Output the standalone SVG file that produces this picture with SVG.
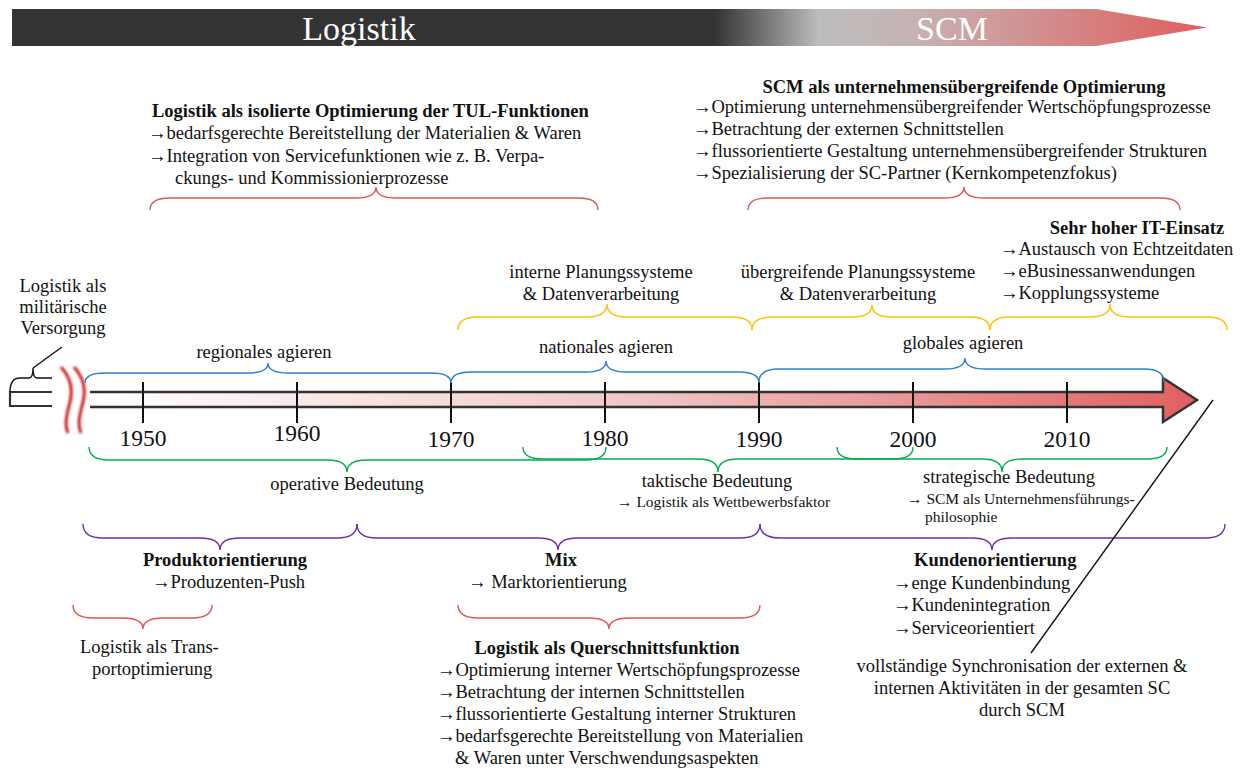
<svg xmlns="http://www.w3.org/2000/svg" width="1242" height="772" viewBox="0 0 1242 772">
<defs>
<linearGradient id="bannerGrad" gradientUnits="userSpaceOnUse" x1="12" y1="0" x2="1207" y2="0">
<stop offset="0" stop-color="#333333"/>
<stop offset="0.588" stop-color="#333333"/>
<stop offset="0.675" stop-color="#bcbcbc"/>
<stop offset="0.75" stop-color="#c6b4b4"/>
<stop offset="1" stop-color="#e05e5e"/>
</linearGradient>
<linearGradient id="arrowGrad" gradientUnits="userSpaceOnUse" x1="90" y1="0" x2="1197" y2="0">
<stop offset="0" stop-color="#ffffff"/>
<stop offset="0.5" stop-color="#f0c6c6"/>
<stop offset="1" stop-color="#e06060"/>
</linearGradient>
<filter id="soft" x="-50%" y="-10%" width="200%" height="120%">
<feGaussianBlur stdDeviation="0.9"/>
</filter>
</defs>
<style>
text{font-family:"Liberation Serif","Times New Roman",serif;font-size:18.5px;fill:#111;}
.b{font-weight:bold;}
.c{text-anchor:middle;}
.s{font-size:15.5px;}
.yr{font-size:23.5px;text-anchor:middle;}
.ban{font-size:34px;fill:#ffffff;text-anchor:middle;}
.br{fill:none;stroke-width:1.4;}
.blue{stroke:#2f7fcf;}
.yel{stroke:#ffc000;}
.grn{stroke:#00b050;}
.pur{stroke:#7030a0;}
.red{stroke:#e05555;}
.tick{stroke:#111;stroke-width:2;}
</style>

<g id="banner">
<path d="M12,9 H1096 L1207,27.5 L1096,46 H12 Z" fill="url(#bannerGrad)"/>
<text class="ban" x="359" y="40">Logistik</text>
<text class="ban" x="952" y="40">SCM</text>
</g>

<g id="timeline">
<path d="M90,392 H1163 V378 L1197,400 L1163,422 V407 H90 Z" fill="url(#arrowGrad)"/>
<path d="M90,392 H1163 V378 L1197,400 L1163,422 V407 H90" fill="none" stroke="#333" stroke-width="2.5" stroke-linejoin="miter"/>
<path d="M52,392 H10 V406 H52" fill="none" stroke="#333" stroke-width="2.2"/>
<path d="M10,392 Q10,378 20,378 H29 Q33,378 33,368 Q33,378 37,378 H52" fill="none" stroke="#111" stroke-width="1.4"/>
<line x1="33" y1="368" x2="62" y2="347" stroke="#111" stroke-width="1.4"/>
<path d="M61,367 C71,378 73,390 70,402 C67,414 64,424 68,433" fill="none" stroke="#d42a2a" stroke-width="3.2" filter="url(#soft)"/>
<path d="M74,367 C84,378 86,390 83,402 C80,414 77,424 81,433" fill="none" stroke="#d42a2a" stroke-width="3.2" filter="url(#soft)"/>
<line class="tick" x1="143" y1="382" x2="143" y2="423"/>
<line class="tick" x1="297" y1="382" x2="297" y2="423"/>
<line class="tick" x1="451" y1="382" x2="451" y2="423"/>
<line class="tick" x1="605" y1="382" x2="605" y2="423"/>
<line class="tick" x1="759" y1="382" x2="759" y2="423"/>
<line class="tick" x1="913" y1="382" x2="913" y2="423"/>
<line class="tick" x1="1067" y1="382" x2="1067" y2="423"/>
<text class="yr" x="143" y="446">1950</text>
<text class="yr" x="297" y="441">1960</text>
<text class="yr" x="451" y="447">1970</text>
<text class="yr" x="605" y="446">1980</text>
<text class="yr" x="759" y="447">1990</text>
<text class="yr" x="913" y="447">2000</text>
<text class="yr" x="1067" y="447">2010</text>
</g>

<g id="connectors">
<path class="br red" d="M150,210 Q150,198 170,198 H356 Q376,198 376,187 Q376,198 396,198 H578 Q598,198 598,210"/>
<path class="br red" d="M748,210 Q748,198 768,198 H944 Q964,198 964,187 Q964,198 984,198 H1160 Q1180,198 1180,210"/>
<path class="br yel" d="M458,330 Q458,317 478,317 H587 Q607,317 607,304 Q607,317 627,317 H732 Q752,317 752,330"/>
<path class="br yel" d="M752,330 Q752,317 772,317 H852 Q872,317 872,305 Q872,317 892,317 H970 Q990,317 990,330"/>
<path class="br yel" d="M990,330 Q990,317 1010,317 H1090 Q1110,317 1110,304 Q1110,317 1130,317 H1207 Q1227,317 1227,330"/>
<path class="br blue" d="M85,383 Q85,373 105,373 H248 Q268,373 268,363 Q268,373 288,373 H431 Q451,373 451,383"/>
<path class="br blue" d="M451,383 Q451,372 471,372 H586 Q606,372 606,361 Q606,372 626,372 H739 Q759,372 759,383"/>
<path class="br blue" d="M759,382 Q759,369 779,369 H945 Q965,369 965,358 Q965,369 985,369 H1144 Q1164,369 1164,382"/>
<path class="br grn" d="M89,447 Q89,460 109,460 H327 Q347,460 347,472 Q347,460 367,460 H586 Q606,460 606,447"/>
<path class="br grn" d="M523,447 Q523,459 543,459 H698 Q718,459 718,472 Q718,459 738,459 H893 Q913,459 913,447"/>
<path class="br grn" d="M837,447 Q837,459 857,459 H982 Q1002,459 1002,472 Q1002,459 1022,459 H1147 Q1167,459 1167,447"/>
<path class="br pur" d="M83,524 Q83,538 103,538 H200 Q220,538 220,550 Q220,538 240,538 H337 Q357,538 357,524"/>
<path class="br pur" d="M357,524 Q357,538 377,538 H538 Q558,538 558,550 Q558,538 578,538 H740 Q760,538 760,524"/>
<path class="br pur" d="M760,524 Q760,538 780,538 H972 Q992,538 992,550 Q992,538 1012,538 H1205 Q1225,538 1225,524"/>
<path class="br red" d="M73,605 Q73,618 93,618 H123 Q143,618 143,629 Q143,618 163,618 H192 Q212,618 212,605"/>
<path class="br red" d="M458,605 Q458,618 478,618 H589 Q609,618 609,629 Q609,618 629,618 H740 Q760,618 760,605"/>
<line x1="1213" y1="400" x2="1031" y2="653" stroke="#111" stroke-width="1.4"/>
</g>

<g id="tul">
<text class="b" x="152" y="117">Logistik als isolierte Optimierung der TUL-Funktionen</text>
<text x="148" y="139">→bedarfsgerechte Bereitstellung der Materialien &amp; Waren</text>
<text x="148" y="162">→Integration von Servicefunktionen wie z. B. Verpa-</text>
<text x="175" y="184">ckungs- und Kommissionierprozesse</text>
</g>

<g id="scm-opt">
<text class="b c" x="964" y="93">SCM als unternehmensübergreifende Optimierung</text>
<text x="693" y="113">→Optimierung unternehmensübergreifender Wertschöpfungsprozesse</text>
<text x="693" y="135">→Betrachtung der externen Schnittstellen</text>
<text x="693" y="157">→flussorientierte Gestaltung unternehmensübergreifender Strukturen</text>
<text x="693" y="179">→Spezialisierung der SC-Partner (Kernkompetenzfokus)</text>
</g>

<g id="it">
<text class="b c" x="1137" y="234">Sehr hoher IT-Einsatz</text>
<text x="1000" y="255">→Austausch von Echtzeitdaten</text>
<text x="1000" y="277">→eBusinessanwendungen</text>
<text x="1000" y="299">→Kopplungssysteme</text>
</g>

<g id="interne-planung">
<text class="c" x="601" y="278">interne Planungssysteme</text>
<text class="c" x="601" y="300">&amp; Datenverarbeitung</text>
</g>

<g id="uebergreifende-planung">
<text class="c" x="858" y="278">übergreifende Planungssysteme</text>
<text class="c" x="858" y="300">&amp; Datenverarbeitung</text>
</g>

<g id="militaer">
<text class="c" x="63" y="292">Logistik als</text>
<text class="c" x="63" y="313">militärische</text>
<text class="c" x="63" y="334">Versorgung</text>
</g>

<g id="regional"><text class="c" x="264" y="358">regionales agieren</text></g>
<g id="national"><text class="c" x="606" y="353">nationales agieren</text></g>
<g id="global"><text class="c" x="963" y="349">globales agieren</text></g>

<g id="operativ"><text class="c" x="347" y="490">operative Bedeutung</text></g>
<g id="taktisch">
<text class="c" x="717" y="487">taktische Bedeutung</text>
<text class="s" x="617" y="507">→ Logistik als Wettbewerbsfaktor</text>
</g>
<g id="strategisch">
<text x="923" y="483">strategische Bedeutung</text>
<text class="s" x="907" y="504">→ SCM als Unternehmensführungs-</text>
<text class="s" x="925" y="522">philosophie</text>
</g>

<g id="produkt">
<text class="b c" x="225" y="566">Produktorientierung</text>
<text x="152" y="588">→Produzenten-Push</text>
</g>
<g id="mix">
<text class="b c" x="561" y="566">Mix</text>
<text x="468" y="588">→ Marktorientierung</text>
</g>
<g id="kunde">
<text class="b" x="914" y="566">Kundenorientierung</text>
<text x="893" y="589">→enge Kundenbindung</text>
<text x="893" y="611">→Kundenintegration</text>
<text x="893" y="634">→Serviceorientiert</text>
</g>

<g id="transport">
<text x="80" y="653">Logistik als Trans-</text>
<text x="92" y="675">portoptimierung</text>
</g>

<g id="querschnitt">
<text class="b c" x="607" y="654">Logistik als Querschnittsfunktion</text>
<text x="437" y="676">→Optimierung interner Wertschöpfungsprozesse</text>
<text x="437" y="698">→Betrachtung der internen Schnittstellen</text>
<text x="437" y="720">→flussorientierte Gestaltung interner Strukturen</text>
<text x="437" y="742">→bedarfsgerechte Bereitstellung von Materialien</text>
<text x="455" y="764">&amp; Waren unter Verschwendungsaspekten</text>
</g>

<g id="synchronisation">
<text class="c" x="1022" y="672">vollständige Synchronisation der externen &amp;</text>
<text class="c" x="1022" y="694">internen Aktivitäten in der gesamten SC</text>
<text class="c" x="1022" y="716">durch SCM</text>
</g>
</svg>
